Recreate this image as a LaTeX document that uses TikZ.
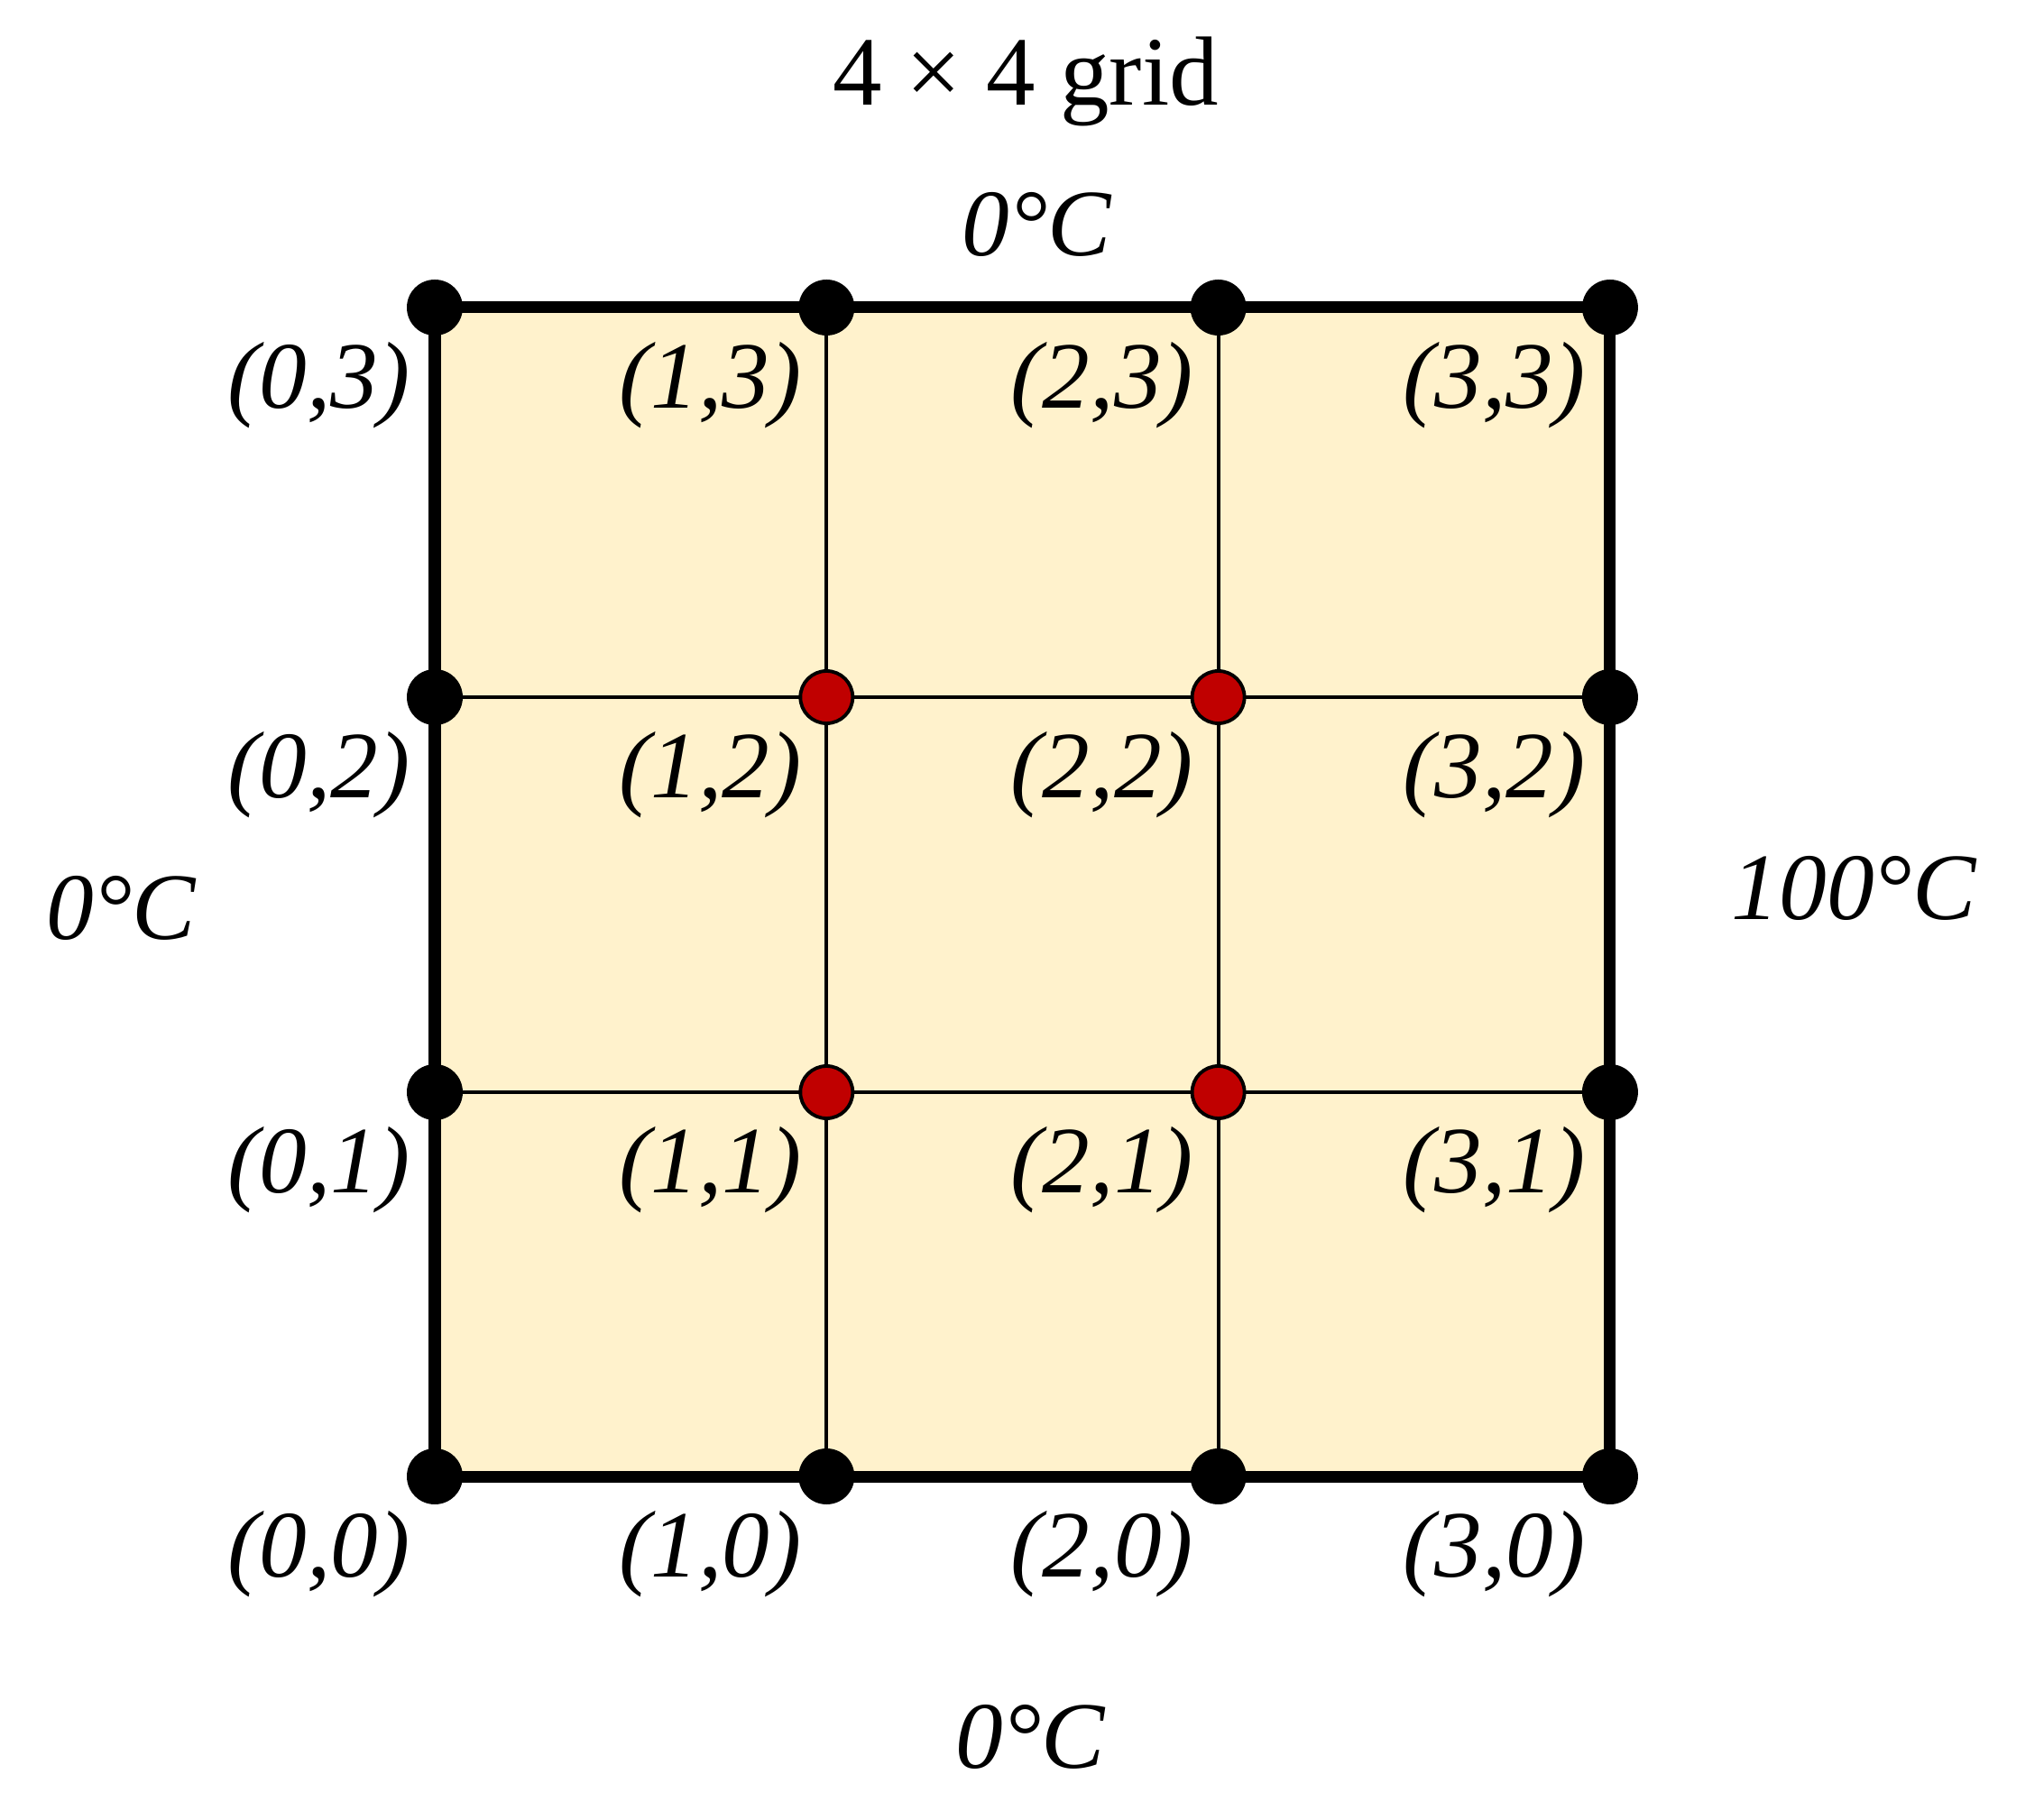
\documentclass[tikz,border=0pt]{standalone}
\usepackage{fontspec}
\setmainfont{Liberation Serif}
\usepackage{tikz}
\usetikzlibrary{positioning}
\definecolor{cellfill}{HTML}{FFF2CC}
\definecolor{innerred}{HTML}{C00000}

\begin{document}
\begin{tikzpicture}[
        dot/.style={
            circle,
            fill=black,
            inner sep=0pt,
            minimum size=0.62cm
        },
        innerdot/.style={
            circle,
            draw=black,
            line width=1.1pt,
            fill=innerred,
            inner sep=0pt,
            minimum size=0.58cm
        },
        coord/.style={
            anchor=north east,
            inner xsep=0.27cm,
            inner ysep=0.38cm,
            font=\fontsize{30}{36}\selectfont\itshape
        },
        temp/.style={font=\fontsize{30}{36}\selectfont\itshape},
        title/.style={font=\fontsize{31}{37}\selectfont},
        border/.style={line width=3.7pt},
        mesh/.style={line width=1.1pt}
    ]
    \useasboundingbox (-4.82,-3.60) rectangle (17.84,16.37);

    % grid points
    \foreach \i in {0,...,3}
        \foreach \j/\y in {0/0, 1/4.26, 2/8.64, 3/12.96}
            \coordinate (c\i\j) at (\i*4.343, \y);

    \fill [cellfill] (c00) rectangle (c33);
    \foreach \k in {1,2} {
        \draw [mesh] (c\k0) -- (c\k3);
        \draw [mesh] (c0\k) -- (c3\k);
    }
    \draw [border] (c00) -- (c30) -- (c33) -- (c03) -- cycle;

    % boundary and interior points
    \foreach \p in {00,10,20,30,01,31,02,32,03,13,23,33}
        \node (p\p) [dot] at (c\p) {};
    \foreach \p in {11,21,12,22}
        \node (p\p) [innerdot] at (c\p) {};

    \foreach \i in {0,...,3}
        \foreach \j in {0,...,3}
            \node (l\i\j) [coord] at (c\i\j) {(\i,\j)};

    \node (caption) [title] at (6.55, 15.47) {4 × 4 grid};
    \node (ttop) [temp] at (6.67, 13.88) {0°C};
    \node (tbottom) [temp] at (6.60, -2.89) {0°C};
    \node (tleft) [temp] at (-3.48, 6.30) {0°C};
    \node (tright) [temp] at (15.73, 6.52) {100°C};

\end{tikzpicture}
\end{document}
